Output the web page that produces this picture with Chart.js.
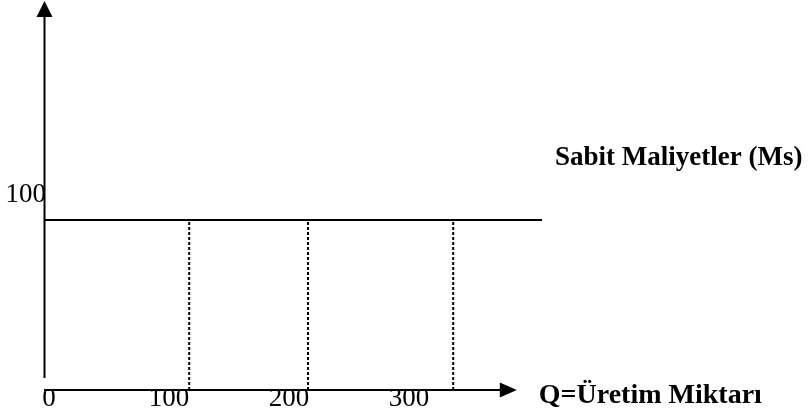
<!DOCTYPE html>
<html>
<head>
<meta charset="utf-8">
<script src="https://cdn.jsdelivr.net/npm/chart.js@4/dist/chart.umd.min.js"></script>
<style>
    html, body { margin: 0; padding: 0; background: #fff; }
    canvas { display: block; }
</style>
</head>
<body>
<canvas id="fixedCostChart" width="808" height="411"></canvas>
<script>
// values
const xTicks = [0, 100, 200, 300];      // Q axis labels
const yTicks = [100];                   // cost axis label
const fixedCost = 100;                  // Ms level
const qLevels = [121, 220, 341];        // dotted drop lines
const qLineEnd = 415;                   // where the Ms line stops
const qAxisEnd = 394;                   // tip of the Q arrow
const xMax = 415;
const yMax = 228.8;

const xTitle = 'Q=Üretim Miktarı';
const lineLabel = 'Sabit Maliyetler (Ms)';

const serif = '"Liberation Serif", "Times New Roman", serif';

// axes with arrow heads + the two bold labels
const axesPlugin = {
    id: 'arrowAxes',
    afterDatasetsDraw(chart) {
        const ctx = chart.ctx;
        const x = chart.scales.x, y = chart.scales.y;
        const left = x.getPixelForValue(0);
        const bottom = y.getPixelForValue(0);
        const top = y.getPixelForValue(yMax);
        const tipX = x.getPixelForValue(qAxisEnd);

        ctx.save();
        ctx.strokeStyle = '#000';
        ctx.fillStyle = '#000';
        ctx.lineWidth = 2;

        // vertical axis (stops a little above the Q axis)
        ctx.beginPath();
        ctx.moveTo(left + 0.5, bottom - 12);
        ctx.lineTo(left + 0.5, top + 14);
        ctx.stroke();
        ctx.beginPath();
        ctx.moveTo(left + 0.5, top);
        ctx.lineTo(left - 7.5, top + 16);
        ctx.lineTo(left + 8.5, top + 16);
        ctx.closePath();
        ctx.fill();

        // horizontal axis
        ctx.beginPath();
        ctx.moveTo(left, bottom);
        ctx.lineTo(tipX - 15, bottom);
        ctx.stroke();
        ctx.beginPath();
        ctx.moveTo(tipX, bottom);
        ctx.lineTo(tipX - 17, bottom - 7.5);
        ctx.lineTo(tipX - 17, bottom + 7.5);
        ctx.closePath();
        ctx.fill();

        ctx.textAlign = 'left';
        ctx.textBaseline = 'alphabetic';
        ctx.font = 'bold 28px ' + serif;
        ctx.fillText(xTitle, tipX + 22, bottom + 13);
        ctx.font = 'bold 27px ' + serif;
        ctx.fillText(lineLabel, 555, y.getPixelForValue(fixedCost) - 55);
        ctx.restore();
    }
};

const datasets = [{
    data: [{ x: 0, y: fixedCost }, { x: qLineEnd, y: fixedCost }],
    borderColor: '#000',
    borderWidth: 2
}];
qLevels.forEach(q => {
    datasets.push({
        data: [{ x: q, y: 0 }, { x: q, y: fixedCost }],
        borderColor: '#000',
        borderWidth: 2,
        borderDash: [3, 2]
    });
});

new Chart(document.getElementById('fixedCostChart'), {
    type: 'scatter',
    data: { datasets },
    options: {
        responsive: false,
        animation: false,
        showLine: true,
        elements: { point: { radius: 0 }, line: { tension: 0 } },
        layout: { padding: { top: 1, right: 266, left: 0, bottom: 0 } },
        plugins: { legend: { display: false }, tooltip: { enabled: false } },
        scales: {
            x: {
                type: 'linear',
                min: 0,
                max: xMax,
                afterBuildTicks: s => { s.ticks = xTicks.map(v => ({ value: v })); },
                afterFit: s => { s.height = 21; s.paddingLeft = 0; s.paddingRight = 0; },
                grid: { display: false, drawTicks: false },
                border: { display: false },
                ticks: {
                    color: '#000',
                    font: { family: serif, size: 27 },
                    padding: -7,
                    labelOffset: 5,
                    maxRotation: 0,
                    autoSkip: false
                }
            },
            y: {
                type: 'linear',
                min: 0,
                max: yMax,
                afterBuildTicks: s => { s.ticks = yTicks.map(v => ({ value: v })); },
                afterFit: s => { s.width = 44; s.paddingTop = 0; s.paddingBottom = 0; },
                grid: { display: false, drawTicks: false },
                border: { display: false },
                ticks: {
                    color: '#000',
                    font: { family: serif, size: 27 },
                    padding: -2,
                    labelOffset: -25,
                    autoSkip: false
                }
            }
        }
    },
    plugins: [axesPlugin]
});
</script>
</body>
</html>
